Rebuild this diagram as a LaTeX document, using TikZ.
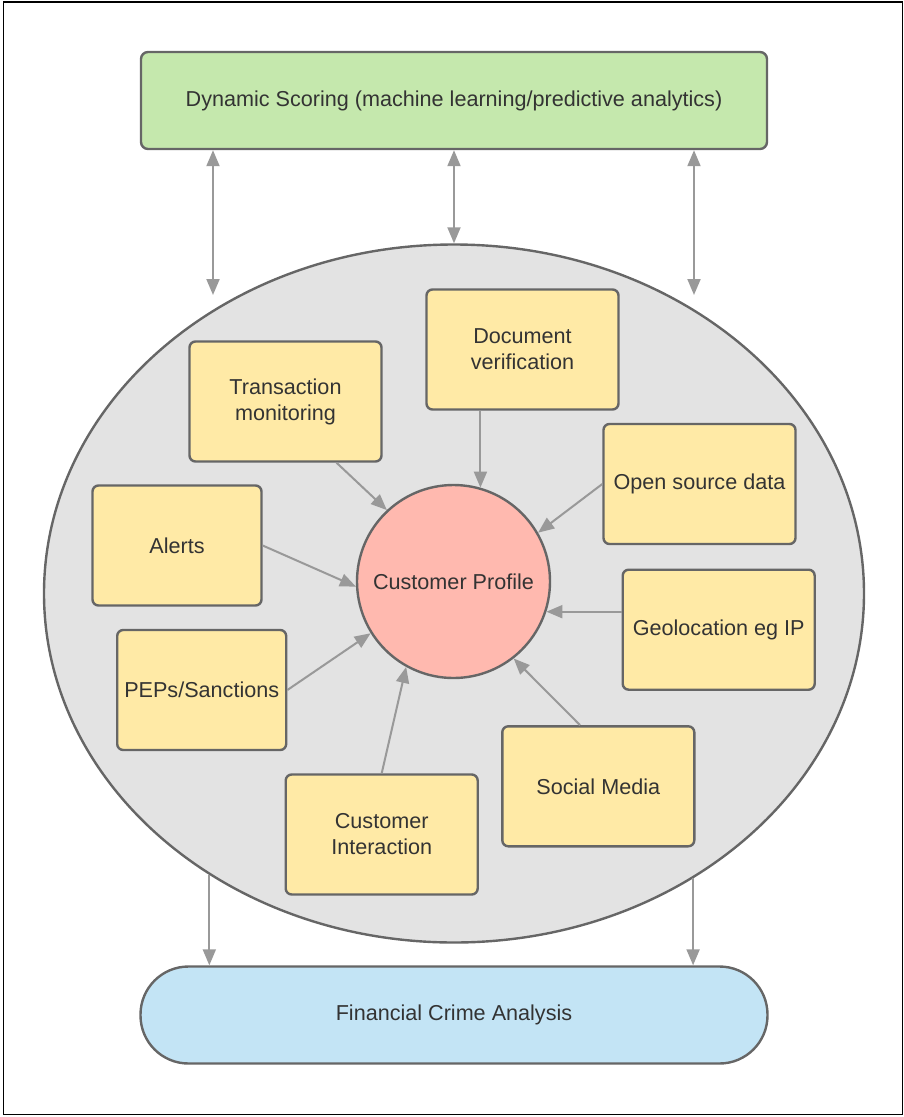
\documentclass[tikz,border=0pt]{standalone}
\usepackage{fontspec}
\setmainfont{Liberation Sans}
\usetikzlibrary{arrows.meta,calc,shapes.geometric}
\definecolor{greenfill}{HTML}{C5E8AD}
\definecolor{yellowfill}{HTML}{FFEAA6}
\definecolor{pinkfill}{HTML}{FFB9AF}
\definecolor{bluefill}{HTML}{C3E4F5}
\definecolor{grayfill}{HTML}{E3E3E3}
\definecolor{edgegray}{HTML}{666666}
\definecolor{arrowgray}{HTML}{999999}
\definecolor{txt}{HTML}{333333}
\tikzset{
  base/.style={draw=edgegray, line width=2.4pt, inner sep=0pt, text=txt, align=center,
    font=\fontsize{21.6}{26}\selectfont},
  ybox/.style={base, fill=yellowfill, rounded corners=6pt, minimum width=192pt, minimum height=120pt},
  ysmall/.style={ybox, minimum width=169pt},
  arr/.style={draw=arrowgray, line width=2pt, -{Triangle[length=16pt,width=13pt]}},
  darr/.style={draw=arrowgray, line width=2pt, {Triangle[length=16pt,width=13pt]}-{Triangle[length=16pt,width=13pt]}}
}
\begin{document}
\begin{tikzpicture}[x=1pt,y=-1pt]
\useasboundingbox (0,0) rectangle (904,1117);
\draw[black, line width=1.6pt] (3.5,2) rectangle (902.5,1114.5);

% top and bottom boxes
\node[base, fill=greenfill, rounded corners=7pt, minimum width=626pt, minimum height=97pt] (ds) at (454,100.5)
  {Dynamic Scoring (machine learning/predictive analytics)};
\node[base, fill=bluefill, rounded corners=48pt, minimum width=627pt, minimum height=97pt] (fca) at (454,1015)
  {Financial Crime Analysis};

% big ellipse
\node[base, fill=grayfill, ellipse, minimum width=820pt, minimum height=698pt] (ell) at (454,593.5) {};

% central circle
\node[base, fill=pinkfill, circle, minimum size=193pt] (cp) at (453.5,581.5) {Customer Profile};

% surrounding boxes
\node[ybox] (tm) at (285.5,401.5) {Transaction\\monitoring};
\node[ybox] (dv) at (522.5,349.5) {Document\\verification};
\node[ybox] (os) at (699.5,484) {Open source data};
\node[ysmall] (al) at (177,545.5) {Alerts};
\node[ybox] (ge) at (718.7,629.7) {Geolocation eg IP};
\node[ysmall] (pe) at (201.7,690) {PEPs/Sanctions};
\node[ybox] (sm) at (598.3,786.3) {Social Media};
\node[ybox] (ci) at (381.7,834.5) {Customer\\Interaction};

% arrows into customer profile
\draw[arr] ($(tm.south)+(51,0)$) -- (cp.133.5);
\draw[arr] (dv.south -| cp.74) -- (cp.74);
\draw[arr] (os.west) -- (cp.30);
\draw[arr] (al.east) -- (cp.183.3);
\draw[arr] (ge.west |- cp.-18.2) -- (cp.-18.2);
\draw[arr] (pe.east) -- (cp.212.2);
\draw[arr] (ci.north) -- (cp.241.6);
\draw[arr] ($(sm.north)+(-18.3,0)$) -- (cp.-52.3);

% double arrows between dynamic scoring and ellipse
\coordinate (u1) at (213,295);
\coordinate (u3) at (694,295);
\draw[darr] (ds.south -| u1) -- (u1);
\draw[darr] (ds.south -| ell.north) -- (ell.north);
\draw[darr] (ds.south -| u3) -- (u3);

% arrows down to financial crime analysis
\draw[arr] (ell.229.5) -- (fca.north -| ell.229.5);
\draw[arr] (ell.-50.3) -- (fca.north -| ell.-50.3);
\end{tikzpicture}
\end{document}
